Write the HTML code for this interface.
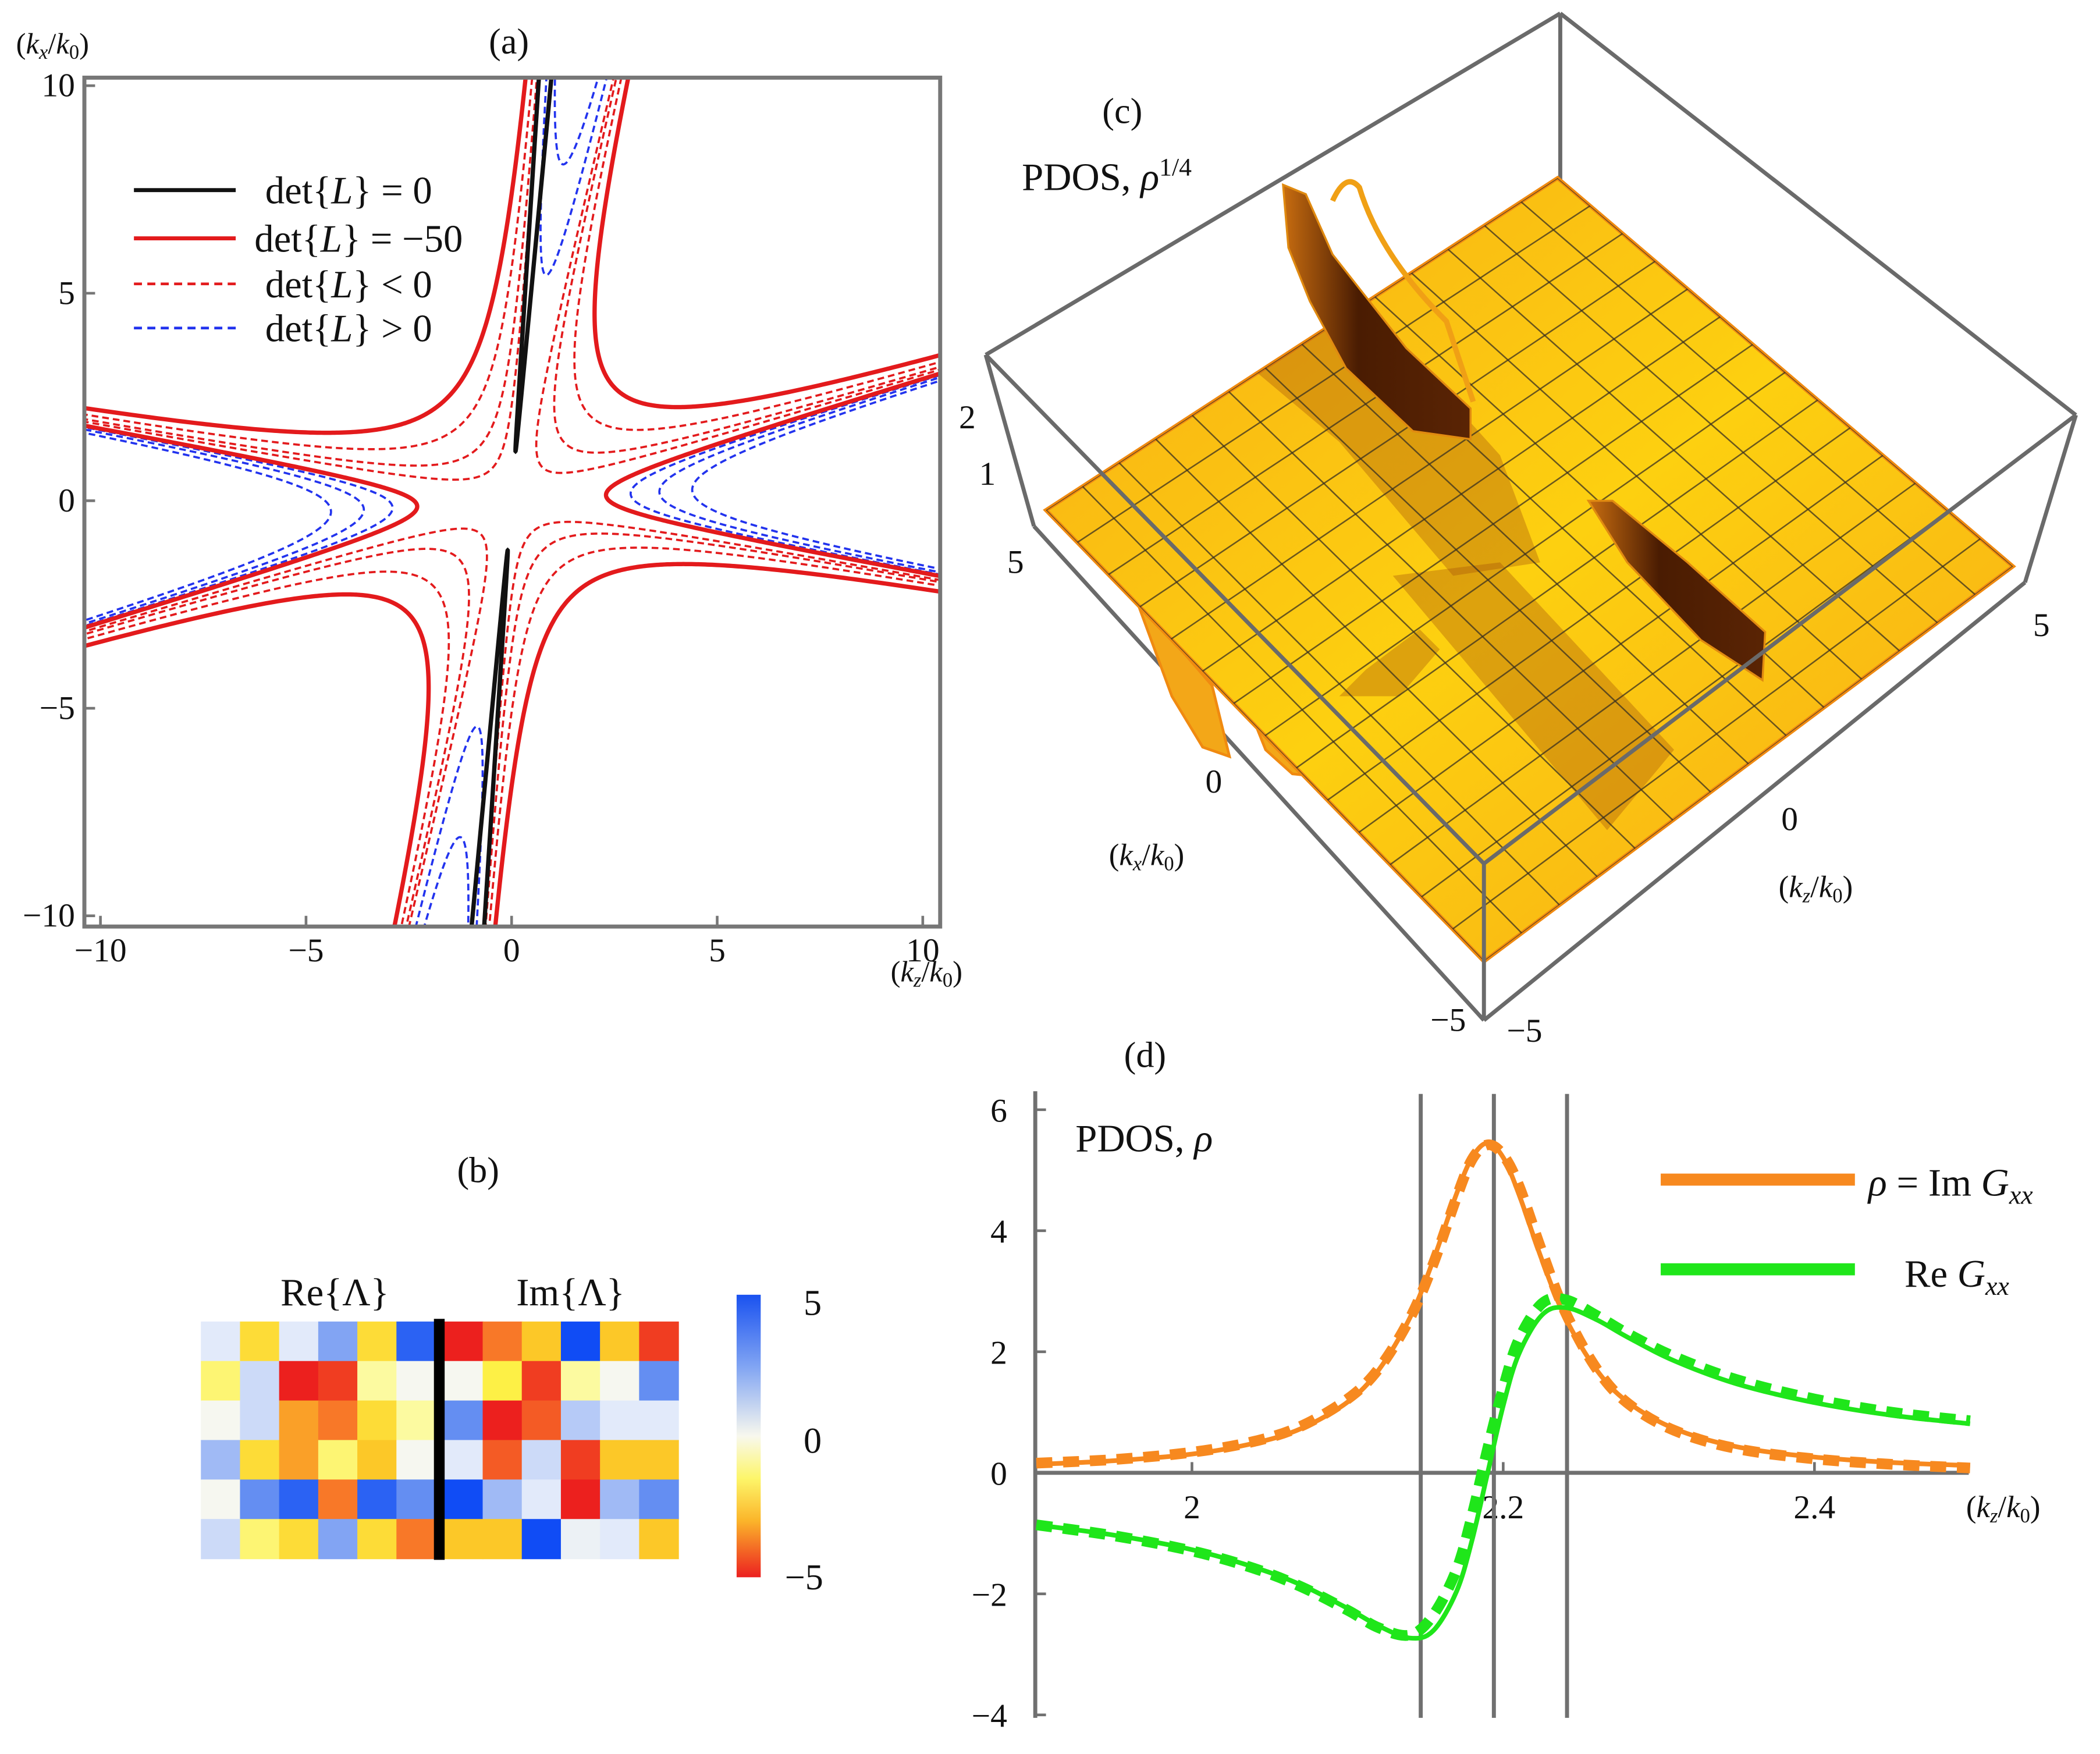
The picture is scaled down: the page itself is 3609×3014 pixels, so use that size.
<!DOCTYPE html>
<html><head><meta charset="utf-8"><style>
html,body{margin:0;padding:0;background:#fff;overflow:hidden;width:3609px;height:3014px;}
svg{display:block;overflow:hidden;}
text{font-family:"Liberation Serif",serif;fill:#111;}
</style></head><body>
<svg id="fig" xmlns="http://www.w3.org/2000/svg" width="3609" height="3014" viewBox="0 0 1568 1310" preserveAspectRatio="none">
<defs>
<clipPath id="clipA"><rect x="64" y="59" width="637" height="632"/></clipPath>
<clipPath id="clipS"><polygon points="781,381 1163,133 1503,423 1108,718"/></clipPath>
<linearGradient id="cbar" x1="0" y1="0" x2="0" y2="1">
<stop offset="0" stop-color="#1a52f0"/><stop offset="0.25" stop-color="#7fa3f3"/><stop offset="0.5" stop-color="#f8f8ee"/><stop offset="0.65" stop-color="#fdf66a"/><stop offset="0.8" stop-color="#fbb52a"/><stop offset="1" stop-color="#ec2020"/></linearGradient>
<linearGradient id="surf" x1="0" y1="0" x2="1" y2="1">
<stop offset="0" stop-color="#f7ad15"/><stop offset="0.5" stop-color="#fdd010"/><stop offset="1" stop-color="#f6a816"/></linearGradient>
<linearGradient id="wall" x1="0" y1="0" x2="1" y2="0">
<stop offset="0" stop-color="#c86d10"/><stop offset="0.4" stop-color="#4a1c02"/><stop offset="1" stop-color="#5a2404"/></linearGradient>
</defs>

<!-- Panel a -->
<g id="panelA">
<text x="380" y="40" font-size="27" text-anchor="middle">(a)</text>
<text x="12" y="40" font-size="22">(<tspan font-style="italic">k<tspan font-size="15" dy="4">x</tspan></tspan><tspan dy="-4">/</tspan><tspan font-style="italic">k</tspan><tspan font-size="15" dy="4">0</tspan><tspan dy="-4">)</tspan></text>
<text x="665" y="733" font-size="22">(<tspan font-style="italic">k<tspan font-size="15" dy="4">z</tspan></tspan><tspan dy="-4">/</tspan><tspan font-style="italic">k</tspan><tspan font-size="15" dy="4">0</tspan><tspan dy="-4">)</tspan></text>
<g id="contours" clip-path="url(#clipA)"></g>
<rect x="63" y="58" width="639" height="634" fill="none" stroke="#777" stroke-width="3"/>
<g id="aTicks"></g>
<g>
<line x1="100" y1="142" x2="176" y2="142" stroke="#111" stroke-width="3"/>
<text x="198" y="152" font-size="29">det{<tspan font-style="italic">L</tspan>} = 0</text>
<line x1="100" y1="178" x2="176" y2="178" stroke="#e31a1c" stroke-width="3"/>
<text x="190" y="188" font-size="29">det{<tspan font-style="italic">L</tspan>} = −50</text>
<line x1="100" y1="212" x2="176" y2="212" stroke="#e31a1c" stroke-width="2" stroke-dasharray="6,4"/>
<text x="198" y="222" font-size="29">det{<tspan font-style="italic">L</tspan>} &lt; 0</text>
<line x1="100" y1="245" x2="176" y2="245" stroke="#2233ee" stroke-width="2" stroke-dasharray="6,4"/>
<text x="198" y="255" font-size="29">det{<tspan font-style="italic">L</tspan>} &gt; 0</text>
</g>
</g>

<!-- Panel b -->
<g id="panelB">
<text x="357" y="883" font-size="27" text-anchor="middle">(b)</text>
<text x="250" y="975" font-size="29" text-anchor="middle">Re{Λ}</text>
<text x="426" y="975" font-size="29" text-anchor="middle">Im{Λ}</text>
<g id="heat"></g>
<rect x="324" y="985" width="8" height="180" fill="#000"/>
<rect x="550" y="967" width="18" height="211" fill="url(#cbar)"/>
<text x="600" y="982" font-size="27">5</text>
<text x="600" y="1085" font-size="27">0</text>
<text x="586" y="1187" font-size="27">−5</text>
</g>

<!-- Panel c -->
<g id="panelC">
<text x="838" y="92" font-size="27" text-anchor="middle">(c)</text>
<text x="763" y="142" font-size="29">PDOS, <tspan font-style="italic">ρ</tspan><tspan font-size="19" dy="-11">1/4</tspan></text>
<g stroke="#6a6a6a" stroke-width="3" fill="none">
<line x1="736" y1="265" x2="1165" y2="10"/>
<line x1="1165" y1="10" x2="1550" y2="310"/>
<line x1="1165" y1="10" x2="1165" y2="135"/>
<line x1="736" y1="265" x2="772" y2="393"/>
<line x1="1550" y1="310" x2="1512" y2="435"/>
<line x1="772" y1="393" x2="1108" y2="762"/>
<line x1="1108" y1="762" x2="1512" y2="435"/>
</g>
<g id="surface"></g>
<g stroke="#6a6a6a" stroke-width="3" fill="none">
<line x1="736" y1="265" x2="1108" y2="645"/>
<line x1="1108" y1="645" x2="1550" y2="310"/>
<line x1="1108" y1="645" x2="1108" y2="762"/>
</g>
<g font-size="25">
<text x="716" y="320">2</text><text x="731" y="362">1</text>
<text x="752" y="428">5</text><text x="900" y="592">0</text><text x="1068" y="770">−5</text>
<text x="1125" y="778">−5</text><text x="1330" y="620">0</text><text x="1518" y="475">5</text>
</g>
<text x="828" y="646" font-size="23">(<tspan font-style="italic">k<tspan font-size="15" dy="4">x</tspan></tspan><tspan dy="-4">/</tspan><tspan font-style="italic">k</tspan><tspan font-size="15" dy="4">0</tspan><tspan dy="-4">)</tspan></text>
<text x="1328" y="670" font-size="23">(<tspan font-style="italic">k<tspan font-size="15" dy="4">z</tspan></tspan><tspan dy="-4">/</tspan><tspan font-style="italic">k</tspan><tspan font-size="15" dy="4">0</tspan><tspan dy="-4">)</tspan></text>
</g>

<!-- Panel d -->
<g id="panelD">
<text x="855" y="797" font-size="27" text-anchor="middle">(d)</text>
<text x="803" y="860" font-size="29">PDOS, <tspan font-style="italic">ρ</tspan></text>
<text x="1468" y="1133" font-size="23">(<tspan font-style="italic">k<tspan font-size="15" dy="4">z</tspan></tspan><tspan dy="-4">/</tspan><tspan font-style="italic">k</tspan><tspan font-size="15" dy="4">0</tspan><tspan dy="-4">)</tspan></text>
<g id="dPlot"></g>
<g>
<line x1="1240" y1="881" x2="1385" y2="881" stroke="#f7891f" stroke-width="9"/>
<text x="1395" y="893" font-size="29"><tspan font-style="italic">ρ</tspan> = Im <tspan font-style="italic">G<tspan font-size="20" dy="6">xx</tspan></tspan></text>
<line x1="1240" y1="948" x2="1385" y2="948" stroke="#1fe61a" stroke-width="9"/>
<text x="1422" y="961" font-size="29">Re <tspan font-style="italic">G<tspan font-size="20" dy="6">xx</tspan></tspan></text>
</g>
</g>
</svg>
<script>
const NS="http://www.w3.org/2000/svg";
function mk(tag,attrs,parent){const e=document.createElementNS(NS,tag);for(const k in attrs)e.setAttribute(k,attrs[k]);parent.appendChild(e);return e;}

// ---------- Panel (a) data ----------
const aTicks=[-10,-5,0,5,10];
const sectors={
 vTop:[[0.07,1],[0.24,1]], vBot:[[-0.07,-1],[-0.24,-1]],
 lensTop:[[0.065,1],[0.095,1]], lensBot:[[-0.065,-1],[-0.095,-1]],
 hRight:[[1,0.3],[1,-0.18]], hLeft:[[-1,0.18],[-1,-0.3]],
 qTR:[[0.24,1],[1,0.3]], qTL:[[0.07,1],[-1,0.18]], qBL:[[-0.24,-1],[-1,-0.3]], qBR:[[-0.07,-1],[1,-0.18]]
};
const blackSectors=["lensTop","lensBot"], blackTips=[1.2,1.2];
const redSectors=["qTR","qTL","qBL","qBR","hRight","hLeft"], redTips=[3.7,2.9,3.7,2.7,2.3,2.3];
const redDashSectors=["qTR","qTL","qBL","qBR"];
const redDashTips=[[2.8,1.9,1.1],[2.2,1.5,0.9],[2.8,1.9,1.1],[2.0,1.4,0.9]];
const blueSectors=["hRight","hLeft","vTop","vBot"];
const blueTips=[[2.9,3.6,4.4],[2.9,3.6,4.4],[5.5,8.2],[5.5,8.2]];

const AX=u=>382+30.7*u, AY=v=>374-31*v;
const cg=document.getElementById('contours');
function branch(sec,r){
 const [a,b]=sectors[sec];
 const na=Math.hypot(a[0],a[1]), nb=Math.hypot(b[0],b[1]);
 const u1=[a[0]/na,a[1]/na], u2=[b[0]/nb,b[1]/nb];
 const cos=u1[0]*u2[0]+u1[1]*u2[1];
 const c=r*r/(2*(1+cos));
 let d="", started=false;
 for(let i=0;i<=600;i++){
  const ss=Math.exp(Math.log(c/60)+(Math.log(60)-Math.log(c/60))*i/600);
  const x=ss*u1[0]+(c/ss)*u2[0], y=ss*u1[1]+(c/ss)*u2[1];
  if(Math.abs(x)>10.6||Math.abs(y)>10.6){ if(started) break; else continue; }
  d+=(started?"L":"M")+AX(x).toFixed(2)+","+AY(y).toFixed(2);
  started=true;
 }
 return d||"M0,0";
}
blueSectors.forEach((s,i)=>blueTips[i].forEach(r=>{
 const p=mk('path',{d:branch(s,r),fill:"none",stroke:"#2233ee","stroke-width":1.6,"stroke-dasharray":"5,3"},cg);
 
 
}));
redDashSectors.forEach((s,i)=>redDashTips[i].forEach(r=>{
 const p=mk('path',{d:branch(s,r),fill:"none",stroke:"#e31a1c","stroke-width":1.6,"stroke-dasharray":"5,3"},cg);
 
 
}));
redSectors.forEach((s,i)=>{
 const p=mk('path',{d:branch(s,redTips[i]),fill:"none",stroke:"#e31a1c","stroke-width":3.2},cg);
 
 
});
blackSectors.forEach((s,i)=>{
 const p=mk('path',{d:branch(s,blackTips[i]),fill:"none",stroke:"#111","stroke-width":3.2},cg);
 
 
});
const at=document.getElementById('aTicks');
aTicks.forEach(t=>{
 const lbl=t<0?"−"+(-t):String(t);
 const tx=mk('text',{x:AX(t),y:718,"font-size":25,"text-anchor":"middle"},at);tx.textContent=lbl;
 
 
 const ty=mk('text',{x:56,y:AY(t)+8,"font-size":25,"text-anchor":"end"},at);ty.textContent=lbl;
 
 
 mk('line',{x1:AX(t),y1:692,x2:AX(t),y2:684,stroke:"#777","stroke-width":2},at);
 mk('line',{x1:63,y1:AY(t),x2:71,y2:AY(t),stroke:"#777","stroke-width":2},at);
});

// ---------- Panel (b) data ----------
const reRows=[[1,-2,1,3,-2,4.5],[-1,1.5,-5,-4.5,-0.5,0],[0,1.5,-3,-3.5,-2,-0.5],[2.5,-2,-3,-1,-2.5,0],[0,3.5,4.5,-3.5,4.5,3.5],[1.5,-1,-2,3,-2,-3.5]];
const imRows=[[-5,-3.5,-2.5,5,-2.5,-4.5],[0,-1.5,-4.5,-0.5,0,3.5],[3.5,-5,-4,2,1,1],[1,-4,1.5,-4.5,-2.5,-2.5],[5,2.5,1,-5,2.5,3.5],[-2.5,-2.5,5,0.5,1,-2.5]];
const cmapStops=[[-5,[236,32,30]],[-3.5,[248,120,40]],[-2.5,[252,200,40]],[-1.5,[253,240,70]],[-0.5,[252,250,160]],[0,[246,247,240]],[1,[226,234,250]],[2.5,[160,186,245]],[4,[70,120,240]],[5,[16,76,245]]];
function cmap(v){for(let i=0;i<cmapStops.length-1;i++){const [a,ca]=cmapStops[i],[b,cb]=cmapStops[i+1];if(v<=b){const t=Math.max(0,(v-a)/(b-a));return "rgb("+ca.map((c,k)=>Math.round(c+(cb[k]-c)*t)).join(",")+")";}}return "rgb(16,76,245)";}
const hg=document.getElementById('heat');
const cw=29.2, ch=29.5, hx0=150, hy0=987;
reRows.forEach((row,r)=>{
 const full=row.concat(imRows[r]);
 full.forEach((v,c)=>{
  const x=hx0+c*cw+(c>=6?6:0);
  const e=mk('rect',{x:x,y:hy0+r*ch,width:cw+0.5,height:ch+0.5,fill:cmap(v)},hg);
  
  
 });
});

// ---------- Panel (c) surface ----------
const sg=document.getElementById('surface');
const L=[781,381],B=[1163,133],R=[1503,423],F=[1108,718];
function bil(a,b){return [L[0]+a*(B[0]-L[0])+b*(F[0]-L[0])+a*b*(R[0]-B[0]-F[0]+L[0]),L[1]+a*(B[1]-L[1])+b*(F[1]-L[1])+a*b*(R[1]-B[1]-F[1]+L[1])];}
[[[850,452],[880,483],[905,512],[918,565],[898,558],[875,520]],[[935,535],[975,570],[985,580],[965,578],[945,560]],[[1250,470],[1290,450],[1320,445],[1330,540],[1305,545],[1270,500]]].forEach(pts=>{
 const e=mk('polygon',{points:pts.map(p=>p.join(",")).join(" "),fill:"#f3a718",stroke:"#f08a10","stroke-width":2},sg);
 
 
});
let s=mk('polygon',{points:[L,B,R,F].map(p=>p.join(",")).join(" "),fill:"url(#surf)",stroke:"#f08a10","stroke-width":3},sg);


const sh=mk('g',{"clip-path":"url(#clipS)"},sg);
[[[905,250],[985,190],[1120,340],[1150,420],[1085,430],[1000,330]],[[1040,430],[1120,420],[1250,560],[1200,620]],[[1060,470],[1020,500],[1000,520],[1045,520],[1075,485]]].forEach(pts=>{
 const e=mk('polygon',{points:pts.map(p=>p.join(",")).join(" "),fill:"#a04d08",opacity:0.35},sh);
 
 
});
const N=14;
for(let i=0;i<=N;i++){
 let d1="",d2="";
 for(let j=0;j<=20;j++){const p=bil(i/N,j/20),q=bil(j/20,i/N);d1+=(j?"L":"M")+p[0].toFixed(1)+","+p[1].toFixed(1);d2+=(j?"L":"M")+q[0].toFixed(1)+","+q[1].toFixed(1);}
 mk('path',{d:d1,stroke:"#3a3020","stroke-width":1.1,fill:"none",opacity:0.75},sh);
 mk('path',{d:d2,stroke:"#3a3020","stroke-width":1.1,fill:"none",opacity:0.75},sh);
}
[[[958,138],[975,145],[995,190],[1050,260],[1098,305],[1098,328],[1055,322],[1005,275],[978,225],[962,185]],[[1186,374],[1204,374],[1260,420],[1318,472],[1316,508],[1270,478],[1215,420]]].forEach(pts=>{
 const e=mk('polygon',{points:pts.map(p=>p.join(",")).join(" "),fill:"url(#wall)",stroke:"#e08a10","stroke-width":1.5},sg);
 
 
});
mk('path',{d:"M995,150 Q1005,128 1015,140 Q1030,190 1080,240 L1100,300",stroke:"#f0a015","stroke-width":4,fill:"none"},sg);

// ---------- Panel (d) data ----------
const kz=[1.9,1.95,2.0,2.04,2.07,2.1,2.12,2.14,2.155,2.17,2.18,2.19,2.2,2.21,2.225,2.24,2.26,2.28,2.31,2.35,2.4,2.45,2.5];
const rhoSolid=[0.14,0.20,0.31,0.49,0.73,1.17,1.70,2.56,3.51,4.61,5.21,5.45,5.21,4.61,3.51,2.56,1.70,1.17,0.73,0.43,0.26,0.17,0.12];
const reSolid=[-0.86,-1.03,-1.27,-1.56,-1.85,-2.24,-2.53,-2.73,-2.61,-1.96,-1.11,0,1.11,1.96,2.61,2.73,2.53,2.24,1.85,1.47,1.16,0.95,0.81];
const rhoDash=[0.16,0.22,0.34,0.52,0.77,1.22,1.72,2.55,3.45,4.55,5.18,5.42,5.25,4.75,3.65,2.65,1.72,1.15,0.70,0.40,0.23,0.14,0.08];
const reDash=[-0.86,-1.04,-1.29,-1.58,-1.88,-2.27,-2.56,-2.68,-2.35,-1.60,-0.70,0.40,1.40,2.20,2.80,2.86,2.60,2.30,1.92,1.54,1.22,1.00,0.86];
const dXTicks=[2,2.2,2.4], dYTicks=[-4,-2,0,2,4,6];
const resLines=[2.147,2.194,2.241];
const DX=v=>890+(v-2)*1162, DY=v=>1100-45.2*v;
const dg=document.getElementById('dPlot');
function smooth(xs,ys){const P=xs.map((x,i)=>[DX(x),DY(ys[i])]);let d="M"+P[0][0].toFixed(2)+","+P[0][1].toFixed(2);
 for(let i=0;i<P.length-1;i++){const p0=P[Math.max(0,i-1)],p1=P[i],p2=P[i+1],p3=P[Math.min(P.length-1,i+2)];
  const c1=[p1[0]+(p2[0]-p0[0])/6,p1[1]+(p2[1]-p0[1])/6],c2=[p2[0]-(p3[0]-p1[0])/6,p2[1]-(p3[1]-p1[1])/6];
  d+="C"+c1.map(v=>v.toFixed(2)).join(",")+" "+c2.map(v=>v.toFixed(2)).join(",")+" "+p2.map(v=>v.toFixed(2)).join(",");}
 return d;}
let ax=mk('line',{x1:773,y1:815,x2:773,y2:1283,stroke:"#707070","stroke-width":3},dg);


ax=mk('line',{x1:773,y1:DY(0),x2:1470,y2:DY(0),stroke:"#707070","stroke-width":3},dg);


dYTicks.forEach(t=>{
 mk('line',{x1:773,y1:DY(t),x2:781,y2:DY(t),stroke:"#707070","stroke-width":2},dg);
 const e=mk('text',{x:752,y:DY(t)+9,"font-size":25,"text-anchor":"end"},dg);e.textContent=t<0?"−"+(-t):String(t);
 
 
});
dXTicks.forEach(t=>{
 mk('line',{x1:DX(t),y1:DY(0),x2:DX(t),y2:DY(0)-8,stroke:"#707070","stroke-width":2},dg);
 const e=mk('text',{x:DX(t),y:1134,"font-size":25,"text-anchor":"middle"},dg);e.textContent=String(t);
 
 
});
resLines.forEach(v=>{
 const e=mk('line',{x1:DX(v),y1:817,x2:DX(v),y2:1283,stroke:"#707070","stroke-width":3},dg);
 
 
});
let p;
p=mk('path',{d:smooth(kz,rhoDash),fill:"none",stroke:"#f7891f","stroke-width":8,"stroke-dasharray":"12,8"},dg);


p=mk('path',{d:smooth(kz,reDash),fill:"none",stroke:"#1fe61a","stroke-width":8,"stroke-dasharray":"12,8"},dg);


p=mk('path',{d:smooth(kz,rhoSolid),fill:"none",stroke:"#f7891f","stroke-width":3.5},dg);


p=mk('path',{d:smooth(kz,reSolid),fill:"none",stroke:"#1fe61a","stroke-width":3.5},dg);


</script>
</body></html>
